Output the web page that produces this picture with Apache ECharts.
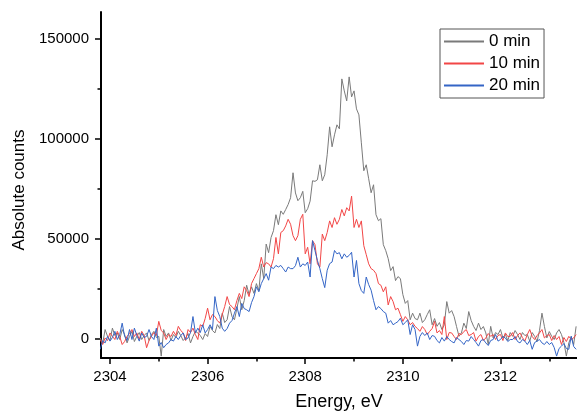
<!DOCTYPE html>
<html>
<head>
<meta charset="utf-8">
<script src="https://cdn.jsdelivr.net/npm/echarts@6/dist/echarts.min.js"></script>
<style>
  html, body { margin: 0; padding: 0; background: #fff; }
  #chart { width: 577px; height: 416px; }
</style>
</head>
<body>
<div id="chart"></div>
<script>
// Energy grid of the scans (eV)
const ENERGY_START = 2303.8;
const ENERGY_STEP = 0.05;

// Tick positions
const xMajorTicks = [2304, 2306, 2308, 2310, 2312];
const xMinorTicks = [2305, 2307, 2309, 2311, 2313];
const yMajorTicks = [0, 50000, 100000, 150000];
const yMinorTicks = [25000, 75000, 125000];

const seriesNames = ['0 min', '10 min', '20 min'];

// Absolute counts, 0 min
const counts0 = [
  300, -2500, 4500, 1100, -1000, 5200, 1500, 2800, -500, 4500,
  2000, -2200, 1000, 3600, -1500, 1100, 3000, -500, 1500, 2800,
  -1000, 2000, 3600, 500, 1100, -8800, 4500, 1000, 2800, -1000,
  2000, 500, 3600, 1500, -1000, 300, 2500, -2200, 1000, 3600,
  2800, 1500, -500, 2500, 1000, 6100, 4000, 2800, 7000, 5000,
  12700, 8000, 9400, 16000, 11000, 9400, 15000, 21000, 14400, 19000,
  26700, 22000, 25900, 22600, 27500, 24000, 37400, 30000, 47300, 43000,
  50600, 54000, 62000, 57000, 63900, 62200, 64600, 67100, 70500, 83000,
  72900, 69000, 70500, 73700, 63000, 65000, 68800, 79000, 78700, 79500,
  87000, 79000, 82000, 92000, 106000, 96000, 102000, 107000, 105000, 130000,
  124000, 119000, 131000, 121000, 124000, 115000, 112000, 98000, 84000, 87000,
  80000, 73000, 77000, 62000, 59000, 60000, 47000, 44000, 40000, 34000,
  36000, 29000, 31000, 30000, 22000, 17600, 19000, 9400, 12700, 10000,
  9400, 12700, 8000, 9400, 12000, 14400, 6900, 10000, 6100, 8000,
  4500, 6900, 18500, 12700, 14000, 11000, 6000, 1100, 2800, 7700,
  5000, 13500, 9000, 6100, 4000, 7700, 4500, 6000, 2800, -3000,
  6100, 300, 3000, 2000, 4500, 300, 2100, -1000, 3000, 1100,
  4000, 2000, -500, 3000, 1500, 2000, -1300, 3000, 1100, -1500,
  4000, 12700, 6100, 300, 3500, 1100, -500, 2800, 4500, 2000,
  -2000, -8800, -2200, 1000, -3000, 6100
];

// Absolute counts, 10 min
const counts10 = [
  -500, -3000, 300, -1000, 2800, 1100, -500, 3600, 1000, -3000,
  -1500, 1100, 2500, 4500, 1000, 2800, -500, 3600, 1500, -4600,
  -1000, 1100, 3000, 1500, 8600, 4000, 2800, -500, 2000, 1000,
  3600, 1500, 6100, 4000, 2800, -1000, 4500, 3000, 5200, 2000,
  -500, 6900, 6100, 10000, 15200, 9400, 12000, 11000, 9000, 7700,
  12000, 16000, 21000, 17000, 16000, 14400, 19000, 22600, 20000, 25900,
  24000, 21000, 27500, 30000, 32500, 35000, 40700, 35800, 38000, 37400,
  35800, 40000, 50600, 42400, 53100, 54000, 56400, 59700, 57200, 51500,
  49000, 51500, 59700, 62200, 42400, 45700, 37400, 49000, 47000, 37400,
  35800, 52300, 49000, 53100, 58900, 55600, 60500, 57200, 59700, 64600,
  61400, 65500, 63900, 71300, 55600, 59700, 55600, 58900, 46500, 42000,
  37400, 35000, 34200, 32500, 27500, 26700, 23400, 25900, 16800, 21000,
  18500, 14400, 15200, 12000, 8600, 11000, 9400, 6900, 8000, 6100,
  5000, 3600, 6000, 4500, 2000, 3600, 5000, 8600, 2800, 4000,
  2000, 11000, -500, 3000, 2800, 1000, -500, 2500, 2000, 3500,
  4500, 1500, 2000, 3000, -1300, 1000, 2000, -1000, 300, 2500,
  1100, 2000, -500, 1500, 2000, -1000, 2800, 1000, 1100, 3000,
  -500, 1500, 2800, 500, -1300, 2000, 4500, 1000, -500, 1500,
  2800, 4500, 300, 1500, 2000, -1000, 1500, -500, 1000, -3000,
  500, -1500, 1100, -500, 300, 2000
];

// Absolute counts, 20 min
const counts20 = [
  -5400, -1000, -2200, 1100, -1300, 500, 3600, -500, 2000, 7700,
  1100, -1000, 4500, -500, 5200, 1500, -1300, 2800, 500, 1100,
  4500, 1000, -500, 5200, -3800, -2000, -4600, -3000, -2200, -500,
  -1300, 1000, -500, 1500, 2800, -500, 300, 3000, 11000, 2800,
  5200, 3000, 6900, 2800, 4500, 6900, 4500, 21000, 14000, 11000,
  5200, 3600, 5000, 7700, 9000, 12700, 16000, 11000, 17600, 15000,
  14400, 13500, 18000, 21000, 25900, 23400, 27500, 30000, 32500, 29200,
  35800, 35000, 36600, 35800, 36600, 35000, 33300, 35800, 35000, 35000,
  36500, 40700, 35800, 37400, 36600, 38300, 30800, 49000, 44000, 39100,
  35000, 30000, 25500, 34200, 37500, 38300, 44100, 42400, 43000, 39900,
  42400, 40700, 41600, 43200, 30800, 39100, 27500, 24000, 22600, 30800,
  27000, 24200, 19000, 14400, 16000, 15000, 13500, 12700, 7700, 9000,
  6900, 7700, 8500, 10200, 6900, 8000, 9400, 2000, 6900, 4500,
  -3800, 1100, 3000, 1500, 2800, -500, 1500, 1100, -1000, -2200,
  500, -1300, 1000, -500, -1500, -2200, 500, -500, -1500, -3000,
  -1000, -1300, 1000, -500, -2000, -3800, -1000, -500, -2200, -3500,
  -1000, -500, 2000, -1300, -500, 1000, 300, -1500, -500, -500,
  1000, -1500, -2200, -500, -1300, -3000, -1000, -5400, -2000, -1300,
  -500, -2200, -3000, -1500, -3000, -2000, -4500, -8800, -5000, -3800,
  -2500, -5000, -5400, 1100, -4000, -5400
];

const seriesColors = ['#7a7a7a', '#f24646', '#3465c6'];
const FONT = 'Liberation Sans, Arial, Helvetica, sans-serif';

function toPoints(values) {
  return values.map((v, i) => [ENERGY_START + i * ENERGY_STEP, v]);
}

const chart = echarts.init(document.getElementById('chart'), null, { renderer: 'canvas' });

const X_MIN = 2303.816, X_MAX = 2313.568;
const Y_MIN = -9750, Y_MAX = 163500;

chart.setOption({
  animation: false,
  backgroundColor: '#ffffff',
  grid: { left: 101, right: 0, top: 12, bottom: 54, containLabel: false },
  legend: {
    left: 440,
    top: 29,
    orient: 'vertical',
    itemWidth: 40,
    itemHeight: 17,
    itemGap: 5,
    padding: [4, 4, 4, 3],
    borderColor: '#555555',
    borderWidth: 1,
    backgroundColor: '#ffffff',
    // line-only keys: hide the marker drawn on top of each line sample
    itemStyle: { opacity: 0 },
    textStyle: { fontFamily: FONT, fontSize: 17, color: '#000000', padding: [0, 0, 0, 0] },
    data: seriesNames
  },
  xAxis: [
    {
      type: 'value',
      min: X_MIN,
      max: X_MAX,
      name: 'Energy, eV',
      nameLocation: 'middle',
      nameGap: 35,
      nameTextStyle: { fontFamily: FONT, fontSize: 18, color: '#000000' },
      axisLine: { show: true, onZero: false, lineStyle: { color: '#000000', width: 2 } },
      axisTick: { show: true, length: 6, customValues: xMajorTicks, lineStyle: { color: '#000000', width: 1.5 } },
      axisLabel: { customValues: xMajorTicks, margin: 11, fontFamily: FONT, fontSize: 15, color: '#000000',
                   formatter: v => String(v) },
      splitLine: { show: false }
    },
    {
      type: 'value',
      min: X_MIN,
      max: X_MAX,
      position: 'bottom',
      axisLine: { show: false, onZero: false },
      axisTick: { show: true, length: 3.5, customValues: xMinorTicks, lineStyle: { color: '#000000', width: 1.5 } },
      axisLabel: { show: false },
      splitLine: { show: false }
    }
  ],
  yAxis: [
    {
      type: 'value',
      min: Y_MIN,
      max: Y_MAX,
      name: 'Absolute counts',
      nameLocation: 'middle',
      nameGap: 72,
      nameTextStyle: { fontFamily: FONT, fontSize: 17, color: '#000000', padding: [0, 10, 0, 0] },
      axisLine: { show: true, onZero: false, lineStyle: { color: '#000000', width: 2 } },
      axisTick: { show: true, length: 6, customValues: yMajorTicks, lineStyle: { color: '#000000', width: 1.5 } },
      axisLabel: { customValues: yMajorTicks, margin: 12, fontFamily: FONT, fontSize: 15, color: '#000000',
                   formatter: v => String(v) },
      splitLine: { show: false }
    },
    {
      type: 'value',
      min: Y_MIN,
      max: Y_MAX,
      position: 'left',
      axisLine: { show: false, onZero: false },
      axisTick: { show: true, length: 3.5, customValues: yMinorTicks, lineStyle: { color: '#000000', width: 1.5 } },
      axisLabel: { show: false },
      splitLine: { show: false }
    }
  ],
  series: [counts0, counts10, counts20].map((vals, k) => ({
    name: seriesNames[k],
    type: 'line',
    xAxisIndex: 0,
    yAxisIndex: 0,
    symbol: 'none',
    smooth: false,
    clip: true,
    data: toPoints(vals),
    lineStyle: { color: seriesColors[k], width: 1 },
    itemStyle: { color: seriesColors[k] },
    z: 2 + k
  }))
});
</script>
</body>
</html>
